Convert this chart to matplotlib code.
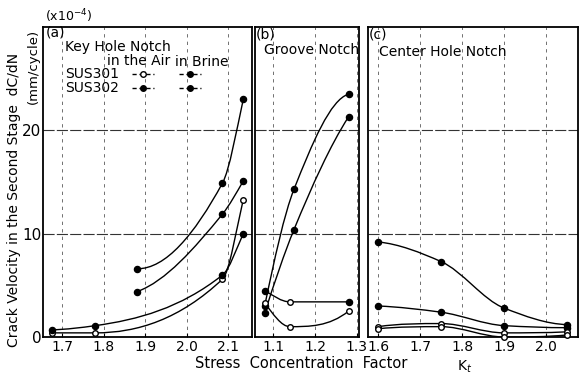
import numpy as np
import matplotlib
matplotlib.use('Agg')
import matplotlib.pyplot as plt
from matplotlib.path import Path
from matplotlib.patches import PathPatch
from matplotlib.lines import Line2D

plt.rcParams['font.family'] = ['DejaVu Sans']

# (a) Key Hole Notch
a_kt_air = [1.676, 1.78, 2.086, 2.136]
a_301_air = [0.4, 0.4, 5.6, 13.3]
a_302_air = [0.7, 1.1, 6.0, 10.0]
a_kt_brine = [1.881, 2.086, 2.136]
a_301_brine = [4.4, 11.9, 15.1]
a_302_brine = [6.6, 14.9, 23.0]

# (b) Groove Notch
b_kt = [1.08, 1.15, 1.28]
b_kt_flat = [1.08, 1.14, 1.28]
b_302_brine = [3.0, 14.3, 23.5]
b_301_brine = [2.3, 10.4, 21.3]
b_302_air = [4.5, 3.4, 3.4]
b_301_air = [3.3, 1.0, 2.5]

# (c) Center Hole Notch
c_kt = [1.6, 1.75, 1.9, 2.05]
c_302_brine = [9.2, 7.3, 2.8, 1.2]
c_301_brine = [3.0, 2.4, 1.1, 0.9]
c_302_air = [1.0, 1.3, 0.4, 0.5]
c_301_air = [0.8, 1.0, 0.0, 0.2]

a_ticks = [1.7, 1.8, 1.9, 2.0, 2.1]
b_ticks = [1.1, 1.2, 1.3]
c_ticks = [1.6, 1.7, 1.8, 1.9, 2.0]

W, H = 582, 374


def fx(px):
    return px / W


def fy(py):
    return 1 - py / H


def pchip_slopes(x, y):
    x = np.asarray(x, float)
    y = np.asarray(y, float)
    h = np.diff(x)
    d = np.diff(y) / h
    n = len(x)
    m = np.zeros(n)
    for k in range(1, n - 1):
        if d[k - 1] * d[k] > 0:
            w1 = 2 * h[k] + h[k - 1]
            w2 = h[k] + 2 * h[k - 1]
            m[k] = (w1 + w2) / (w1 / d[k - 1] + w2 / d[k])
    m0 = ((2 * h[0] + h[1]) * d[0] - h[0] * d[1]) / (h[0] + h[1])
    if m0 * d[0] <= 0:
        m0 = 0
    elif d[0] * d[1] <= 0 and abs(m0) > 3 * abs(d[0]):
        m0 = 3 * d[0]
    mn = ((2 * h[-1] + h[-2]) * d[-1] - h[-1] * d[-2]) / (h[-1] + h[-2])
    if mn * d[-1] <= 0:
        mn = 0
    elif d[-1] * d[-2] <= 0 and abs(mn) > 3 * abs(d[-1]):
        mn = 3 * d[-1]
    m[0], m[-1] = m0, mn
    return m


def smooth_curve(ax, x, y):
    # smooth hand-drawn style curve through the points (cubic Bezier segments)
    m = pchip_slopes(x, y)
    verts = [(x[0], y[0])]
    codes = [Path.MOVETO]
    for i in range(len(x) - 1):
        h = (x[i + 1] - x[i]) / 3
        verts += [(x[i] + h, y[i] + h * m[i]),
                  (x[i + 1] - h, y[i + 1] - h * m[i + 1]),
                  (x[i + 1], y[i + 1])]
        codes += [Path.CURVE4] * 3
    ax.add_patch(PathPatch(Path(verts, codes), fill=False, lw=1.0,
                           ec='black', zorder=3))


def series(ax, x, y, fills):
    # fills: one True/False per point (filled or open circle)
    smooth_curve(ax, x, y)
    for xi, yi, f in zip(x, y, fills):
        ax.plot([xi], [yi], 'o', ms=4.4 if f else 4.0,
                mfc='black' if f else 'white', mec='black', mew=1.0,
                zorder=4, clip_on=False)


fig = plt.figure(figsize=(W / 100, H / 100), dpi=100)

ax_a = fig.add_axes([fx(43), fy(337), fx(252) - fx(43), fy(27) - fy(337)])
ax_b = fig.add_axes([fx(255), fy(337), fx(359) - fx(255), fy(27) - fy(337)])
ax_c = fig.add_axes([fx(368), fy(337), fx(578) - fx(368), fy(27) - fy(337)])

for ax, ticks, lim in [(ax_a, a_ticks, (1.654, 2.157)),
                       (ax_b, b_ticks, (1.057, 1.305)),
                       (ax_c, c_ticks, (1.576, 2.076))]:
    ax.set_xlim(*lim)
    ax.set_ylim(0, 30)
    ax.set_xticks(ticks)
    ax.set_xticklabels([f'{t:.1f}' for t in ticks], fontsize=10)
    ax.set_yticks([0, 10, 20])
    for t in ticks:
        ax.axvline(t, color='0.35', lw=0.6, ls=(0, (4, 5)), zorder=1)
    for v in [10, 20]:
        ax.axhline(v, color='0.2', lw=0.8, ls=(0, (10, 2)), zorder=1)
    ax.tick_params(axis='x', length=3, width=0.8, pad=2, direction='in')
    ax.tick_params(axis='y', length=0, pad=1, labelsize=11)
    for s in ax.spines.values():
        s.set_linewidth(1.3)

ax_b.set_yticklabels([])
ax_c.set_yticklabels([])

series(ax_a, a_kt_air, a_301_air, [False] * 4)
series(ax_a, a_kt_air, a_302_air, [True] * 4)
series(ax_a, a_kt_brine, a_301_brine, [True] * 3)
series(ax_a, a_kt_brine, a_302_brine, [True] * 3)

series(ax_b, b_kt, b_302_brine, [True] * 3)
series(ax_b, b_kt, b_301_brine, [True] * 3)
series(ax_b, b_kt_flat, b_302_air, [True, False, True])
series(ax_b, b_kt_flat, b_301_air, [False] * 3)

series(ax_c, c_kt, c_302_brine, [True] * 4)
series(ax_c, c_kt, c_301_brine, [True] * 4)
series(ax_c, c_kt, c_302_air, [False] * 4)
series(ax_c, c_kt, c_301_air, [False] * 4)

# panel labels and titles
fig.text(fx(46), fy(32), '(a)', fontsize=10, va='center', ha='left')
fig.text(fx(256), fy(34), '(b)', fontsize=10, va='center', ha='left')
fig.text(fx(369), fy(35), '(c)', fontsize=10, va='center', ha='left')
fig.text(fx(312), fy(50), 'Groove Notch', fontsize=10, ha='center', va='center')
fig.text(fx(443), fy(52), 'Center Hole Notch', fontsize=10, ha='center', va='center')

# legend block in panel (a)
fig.text(fx(65), fy(47), 'Key Hole Notch', fontsize=10, ha='left', va='center')
fig.text(fx(107), fy(61), 'in the Air', fontsize=10, ha='left', va='center')
fig.text(fx(175), fy(62), 'in Brine', fontsize=10, ha='left', va='center')
fig.text(fx(65), fy(74), 'SUS301', fontsize=10, ha='left', va='center')
fig.text(fx(65), fy(88), 'SUS302', fontsize=10, ha='left', va='center')
for (cx, cy, filled) in [(143, 74, False), (190, 74, True),
                         (143, 88, True), (190, 88, True)]:
    fig.add_artist(Line2D([fx(cx - 11), fx(cx), fx(cx + 11)], [fy(cy)] * 3,
                          color='black', lw=1.0, ls=(0, (3, 2)),
                          marker='o', markevery=[1], ms=4.0,
                          mfc='black' if filled else 'white', mec='black'))

# axis labels
fig.text(fx(69), fy(16), '(x10$^{-4}$)', fontsize=9, ha='center', va='center')
fig.text(fx(14), fy(200), 'Crack Velocity in the Second Stage  dC/dN',
         fontsize=10, rotation=90, ha='center', va='center')
fig.text(fx(33), fy(66), '(mm/cycle)', fontsize=9.5, rotation=90,
         ha='center', va='center')
fig.text(fx(301), fy(364), 'Stress  Concentration  Factor', fontsize=10.5,
         ha='center', va='center')
fig.text(fx(465), fy(367), 'K$_t$', fontsize=10, ha='center', va='center')

fig.savefig('out.png', dpi=100, facecolor='white')
